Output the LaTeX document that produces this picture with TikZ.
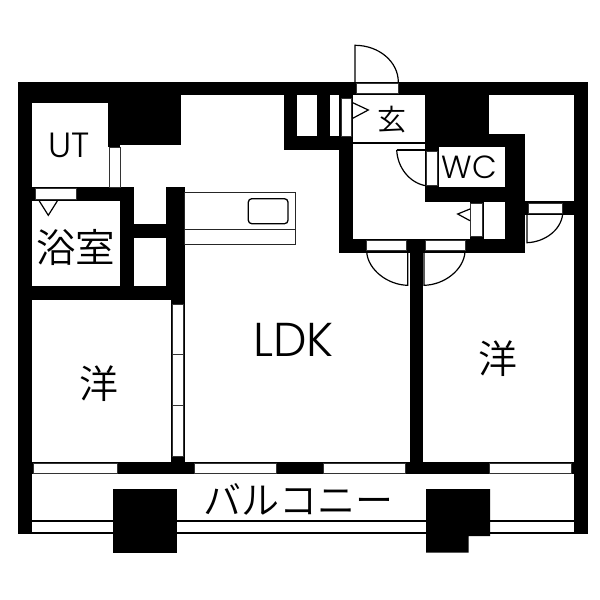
\documentclass[tikz,border=0pt]{standalone}
\usepackage{fontspec}
\setmainfont{Poppins}[UprightFont=* Light]
\newfontfamily\jp{Noto Sans CJK JP}[UprightFont=* DemiLight]
\tikzset{
  wall/.style={fill=black,draw=none},
  opening/.style={fill=white,draw=black!80,line width=0.8pt},
  leaf/.style={draw=black,line width=1.2pt,fill=none},
  rail/.style={draw=black,line width=1.4pt},
  tick/.style={draw=black,line width=1.2pt,fill=none},
  lbl/.style={inner sep=0pt,text=black}
}
\begin{document}
\begin{tikzpicture}[x=1pt,y=-1pt]
\useasboundingbox (0,0) rectangle (600,600);
\fill[white] (0,0) rectangle (600,600);
% balcony rails
\draw[rail] (32,521) -- (574,521);
\draw[rail] (32,533) -- (574,533);
% outer and structural walls
\fill[wall] (18,82) rectangle (588,95);
\fill[wall] (18,82) rectangle (32,534);
\fill[wall] (574,82) rectangle (588,534);
\fill[wall] (18,462) rectangle (588,474);
\fill[wall] (18,286) rectangle (184.5,299.5);
\fill[wall] (32,95) rectangle (108,103);
\fill[wall] (108,95) rectangle (181,145);
\fill[wall] (108,145) rectangle (120,147);
\fill[wall] (32,187) rectangle (134,201);
\fill[wall] (120,187) rectangle (134,286);
\fill[wall] (134,224) rectangle (166,238);
\fill[wall] (166,187) rectangle (184.5,286);
\fill[wall] (171,299) rectangle (184.5,462);
\fill[wall] (283.5,95) rectangle (353,149.5);
\fill[wall] (339,136) rectangle (353,252.5);
\fill[wall] (339,239) rectangle (524.5,252.5);
\fill[wall] (409.5,239) rectangle (423,462);
\fill[wall] (425,95) rectangle (488.5,147);
\fill[wall] (425,133.5) rectangle (524.5,147);
\fill[wall] (505,133.5) rectangle (524.5,252.5);
\fill[wall] (425,143) rectangle (439,201.5);
\fill[wall] (425,187) rectangle (524.5,201.5);
\fill[wall] (510.5,201) rectangle (574,214.5);
\fill[wall] (470,201) rectangle (483.5,239);
% columns
\fill[wall] (113,489) rectangle (176.5,552.5);
\fill[wall] (426,489) -- (490,489) -- (490,536) -- (468.5,536) -- (468.5,552.5) -- (426,552.5) -- cycle;
% windows and openings
\draw[opening] (109,147) rectangle (120,187.5);
\draw[opening] (35,188.7) rectangle (76,199.5);
\fill[white] (172.5,304) rectangle (183.3,456);
\draw[opening] (172.5,304) rectangle (183.3,354.5);
\draw[opening] (172.5,354.5) rectangle (183.3,405.5);
\draw[opening] (172.5,405.5) rectangle (183.3,456);
\draw[opening] (33.7,463.3) rectangle (117,473.7);
\draw[opening] (194,463.3) rectangle (276,473.7);
\draw[opening] (323,463.3) rectangle (405,473.7);
\draw[opening] (489,463.3) rectangle (571,473.7);
\fill[white] (296.7,95.3) rectangle (316.7,136);
\fill[white] (330,95.3) rectangle (339.3,136);
\draw[opening] (341,98.3) rectangle (351.5,136.5);
\draw[opening] (356,83.3) rectangle (398.3,93.3);
\fill[white] (353,95.3) rectangle (425,136);
\draw[opening] (426.7,151.3) rectangle (437.3,185.7);
\draw[opening] (470.7,203.3) rectangle (482,236.3);
\draw[opening] (366.7,240) rectangle (406.7,250.7);
\draw[opening] (425.3,240) rectangle (465,250.7);
\draw[opening] (528.3,203.3) rectangle (562.7,213.3);
% genkan step
\draw[rail] (353,143) -- (425,143);
% door leaves
\draw[leaf] (398.3,82) arc[start angle=0,end angle=-90,x radius=43.3,y radius=36.7] -- (355,82);
\draw[leaf] (396.7,150) -- (425.7,150);
\draw[leaf] (396.7,150) .. controls (397.5,168) and (410,183) .. (425.7,185.7);
\draw[leaf] (366.7,252) .. controls (368,270) and (388,285) .. (407.7,285.3) -- (407.7,252);
\draw[leaf] (465,252) .. controls (463.7,270) and (444,285) .. (424,285.3) -- (424,252);
\draw[leaf] (562.7,214) .. controls (561,230) and (545,242) .. (527,242.7) -- (527,214);
% kitchen counter
\draw[line width=1pt,draw=black!85] (184.5,192.7) rectangle (295,244.3);
\draw[line width=1pt,draw=black!85] (184.5,229.3) -- (295,229.3);
\draw[line width=1.3pt,rounded corners=3.5pt] (248.3,198.7) rectangle (288,223.7);
% direction marks
\draw[tick] (352.7,102.7) -- (368.3,110) -- (352.7,118.3);
\draw[tick] (39.3,201) -- (48.3,215.3) -- (57.3,201);
\draw[tick] (470,209) -- (457.7,214) -- (470,220.7);
% labels
\node[lbl,font=\fontsize{35}{35}\selectfont] (ut) at (69,145.5) {UT};
\node[lbl,font=\jp\fontsize{39.5}{40}\selectfont] (bath) at (75.5,247.5) {浴室};
\node[lbl,font=\fontsize{47.5}{47}\selectfont] (ldk) at (293.5,340) {LDK};
\node[lbl,font=\jp\fontsize{39}{39}\selectfont] (west1) at (99,384) {洋};
\node[lbl,font=\jp\fontsize{39}{39}\selectfont] (west2) at (498,358.5) {洋};
\node[lbl,font=\jp\fontsize{29}{29}\selectfont] (genkan) at (392,120) {玄};
\node[lbl,font=\fontsize{32}{32}\selectfont] (wc) at (469.5,167) {WC};
\node[lbl,font=\jp\fontsize{38}{38}\selectfont] (balc) at (298.5,499) {バルコニー};
\end{tikzpicture}
\end{document}
